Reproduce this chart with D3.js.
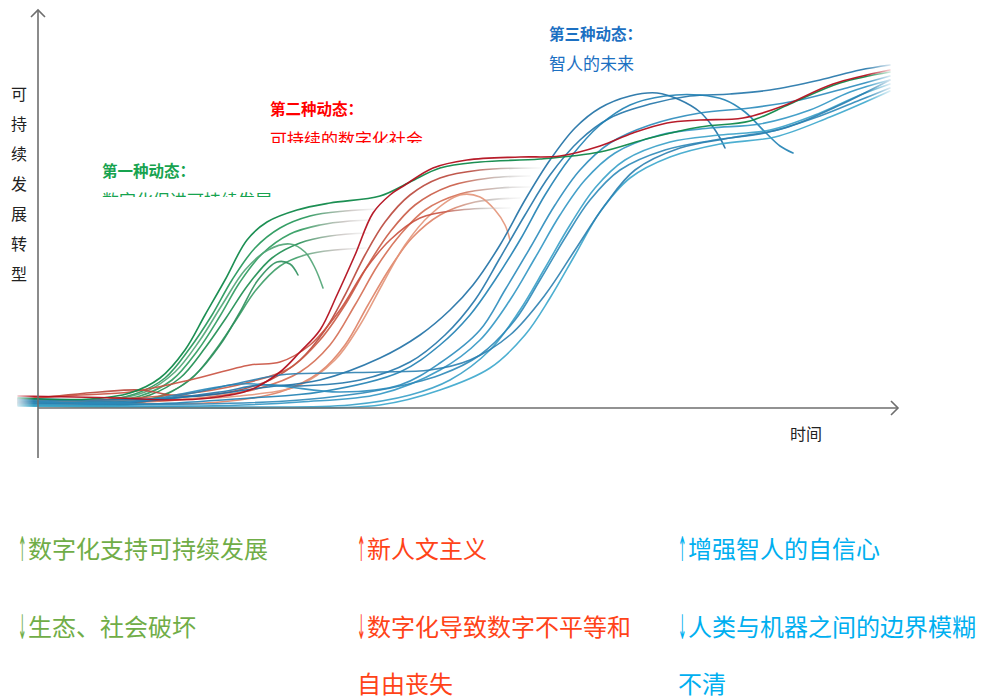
<!DOCTYPE html>
<html><head><meta charset="utf-8">
<script src="https://cdn.jsdelivr.net/npm/d3@7/dist/d3.min.js"></script>
<style>body{margin:0;background:#fff}svg{display:block}</style>
</head><body>
<svg id="chart" width="983" height="700"></svg>
<script>
// ---- data: [time, level] pairs (time 0..860, level 0..400) ----
const greenCurves = [
  [[-20,10],[52,9],[92,15],[122,30],[147,58],[167,93],[187,128],[209,168],[229,186],[259,198],[292,205],[342,212],[372,226],[402,240],[442,246],[502,249],[562,256],[612,270],[662,281],[712,287],[752,304],[802,325],[852,336]],
  [[-20,8],[57,7],[97,14],[127,30],[152,60],[174,93],[194,128],[217,160],[242,180],[272,192],[307,197],[340,199]],
  [[-20,6],[62,6],[102,12],[134,28],[160,58],[182,92],[202,126],[224,154],[252,174],[282,183],[312,187],[334,188]],
  [[-20,5],[72,5],[112,13],[142,30],[167,60],[188,90],[210,123],[234,150],[262,165],[292,172],[330,175]],
  [[-20,4],[82,4],[122,12],[152,28],[176,56],[198,88],[218,118],[242,142],[267,153],[297,158],[328,160]],
  [[-20,9],[67,8],[107,16],[137,36],[162,68],[184,103],[207,138],[230,158],[252,164],[267,156],[277,140],[285,120]],
  [[-20,3],[87,3],[127,13],[157,33],[182,63],[202,96],[220,128],[239,146],[252,144],[260,133]]
];
const redCurves = [
  [[-20,12],[82,10],[132,8],[172,10],[212,18],[242,36],[262,56],[282,78],[299,113],[317,153],[335,195],[352,213],[367,223],[395,240],[429,248],[482,251],[522,252],[562,262],[595,275],[629,285],[662,288],[705,290],[745,302],[795,324],[852,338]],
  [[-20,8],[62,16],[102,18],[142,12],[192,16],[232,28],[262,48],[287,78],[307,113],[327,153],[347,186],[372,213],[402,230],[442,238],[502,240]],
  [[-20,6],[62,8],[162,16],[212,26],[252,40],[282,68],[307,103],[330,143],[352,176],[377,203],[412,222],[452,230],[492,232]],
  [[-20,5],[82,5],[162,10],[222,20],[262,36],[292,63],[317,103],[340,143],[362,173],[387,198],[422,214],[462,220],[492,221]],
  [[-20,4],[92,4],[182,6],[242,16],[282,36],[307,63],[330,103],[352,140],[374,170],[402,193],[437,206],[482,210]],
  [[-20,7],[102,8],[202,12],[262,23],[297,48],[322,83],[344,123],[367,163],[392,193],[422,213],[442,211],[457,198],[467,183],[472,168]],
  [[-20,9],[42,13],[92,16],[152,28],[212,43],[242,46],[272,63],[302,98],[327,138],[352,168],[382,190],[422,198],[472,200]]
];
const blueCurves = [
  [[-20,10],[62,8],[162,12],[222,20],[282,28],[342,50],[382,73],[412,98],[435,123],[462,163],[487,208],[512,248],[537,280],[562,300],[592,312],[619,315],[642,308],[662,296],[675,281],[682,270],[687,260]],
  [[-20,7],[82,5],[182,16],[222,23],[262,22],[322,28],[372,46],[407,73],[437,108],[462,150],[487,193],[512,233],[542,268],[572,290],[612,304],[652,312],[692,314],[732,318],[782,328],[822,338],[852,343]],
  [[-20,5],[112,4],[212,10],[282,16],[362,36],[402,63],[432,93],[457,128],[482,168],[507,213],[532,250],[562,283],[592,303],[627,312],[662,313],[687,308],[707,296],[727,276],[742,262],[755,255]],
  [[-20,8],[92,6],[202,24],[242,22],[302,16],[362,23],[402,45],[442,78],[467,118],[492,160],[517,203],[542,238],[572,265],[612,283],[662,295],[712,300],[762,308],[812,321],[852,332]],
  [[-20,4],[162,2],[262,6],[342,14],[402,38],[442,68],[472,108],[497,150],[522,193],[547,228],[577,255],[622,273],[672,280],[722,284],[772,298],[812,316],[852,328]],
  [[-20,3],[212,1],[312,3],[372,13],[412,28],[452,58],[482,98],[507,140],[532,183],[557,220],[587,248],[632,266],[682,273],[732,278],[782,295],[822,313],[852,324]],
  [[-20,6],[162,4],[262,8],[342,18],[402,33],[442,53],[477,88],[502,128],[527,170],[552,208],[582,238],[627,258],[677,268],[727,275],[782,292],[822,308],[852,320]],
  [[-20,2],[242,0],[342,3],[402,18],[452,40],[487,73],[512,110],[537,153],[562,196],[592,230],[632,251],[682,264],[737,271],[792,291],[852,317]],
  [[-20,9],[112,8],[192,23],[242,33],[292,35],[342,36],[392,38],[432,48],[472,73],[507,113],[537,158],[567,203],[597,238],[642,260],[692,270],[747,280],[802,303],[852,328]]
];
const greenColors = ["#10894a","#1f9455","#2b9a5c","#1a8c4e","#3a9d66","#4fa474","#2c8f5c"];
const redColors   = ["#b3101f","#b9463a","#c95a44","#d46c52","#de8064","#e39478","#c9503f"];
const blueColors  = ["#1d6fa4","#2174a8","#1e80b3","#2a8bbb","#3196c3","#37a0c8","#2c88b8","#3aa6cc","#2b7fb0"];
const greenFade = [false,true,true,true,true,false,false];
const redFade   = [false,true,true,true,true,false,true];

const yLabelChars = ["可","持","续","发","展","转","型"];
const dynamics = [
  {title:"第一种动态：", sub:"数字化促进可持续发展", color:"#17a34f"},
  {title:"第二种动态：", sub:"可持续的数字化社会", color:"#ff0000"},
  {title:"第三种动态：", sub:"智人的未来", color:"#1c70c2"}
];
const effects = [
  {color:"#70ad47", up:["数字化支持可持续发展"], down:["生态、社会破坏"]},
  {color:"#ff4318", up:["新人文主义"], down:["数字化导致数字不平等和","自由丧失"]},
  {color:"#00aff0", up:["增强智人的自信心"], down:["人类与机器之间的边界模糊","不清"]}
];

// ---- drawing ----
const svg = d3.select("#chart");
const x = d3.scaleLinear().domain([0, 860]).range([38, 898]);
const y = d3.scaleLinear().domain([0, 400]).range([408, 8]);
const font = "'Noto Sans CJK SC','Noto Sans',sans-serif";
const defs = svg.append("defs");
const line = d3.line().x(d => x(d[0])).y(d => y(d[1])).curve(d3.curveCatmullRom.alpha(0.5));

let gid = 0;
function strokeFor(pts, color, fade) {
  if (!fade) return color;
  const id = "fade" + (gid++);
  const last = pts[pts.length - 1][0];
  const g = defs.append("linearGradient").attr("id", id).attr("gradientUnits", "userSpaceOnUse")
    .attr("x1", x(last) - 70).attr("x2", x(last)).attr("y1", 0).attr("y2", 0);
  g.append("stop").attr("offset", 0).attr("stop-color", color).attr("stop-opacity", 1);
  g.append("stop").attr("offset", 0.6).attr("stop-color", "#b0a8a4").attr("stop-opacity", 0.7);
  g.append("stop").attr("offset", 1).attr("stop-color", "#d8d8d8").attr("stop-opacity", 0.2);
  return `url(#${id})`;
}
const curvesG = svg.append("g").attr("fill", "none").attr("stroke-width", 1.6).attr("stroke-linecap", "round");
function drawSet(curves, colors, fades, skipFirst) {
  curves.forEach((c, i) => {
    if (skipFirst && i === 0) return;
    curvesG.append("path").attr("d", line(c))
      .attr("stroke", strokeFor(c, colors[i], fades ? fades[i] : false))
      .attr("stroke-opacity", 0.9);
  });
}
drawSet(greenCurves, greenColors, greenFade, true);
drawSet(redCurves, redColors, redFade, true);
drawSet(blueCurves, blueColors, null, false);
curvesG.append("path").attr("d", line(greenCurves[0])).attr("stroke", greenColors[0]).attr("stroke-opacity", 0.95);
curvesG.append("path").attr("d", line(redCurves[0])).attr("stroke", redColors[0]).attr("stroke-opacity", 0.95);

// edge fades
const lf = defs.append("linearGradient").attr("id", "leftFade");
lf.append("stop").attr("offset", 0).attr("stop-color", "#fff").attr("stop-opacity", 1);
lf.append("stop").attr("offset", 1).attr("stop-color", "#fff").attr("stop-opacity", 0);
svg.append("rect").attr("x", x(-26)).attr("y", y(30)).attr("width", 22).attr("height", 34).attr("fill", "url(#leftFade)");
const rf = defs.append("linearGradient").attr("id", "rightFade");
rf.append("stop").attr("offset", 0).attr("stop-color", "#fff").attr("stop-opacity", 0);
rf.append("stop").attr("offset", 1).attr("stop-color", "#fff").attr("stop-opacity", 1);
svg.append("rect").attr("x", x(828)).attr("y", y(360)).attr("width", 30).attr("height", 60).attr("fill", "url(#rightFade)");

// axes
const axisColor = "#6e6e6e";
const ax = svg.append("g").attr("stroke", axisColor).attr("stroke-width", 1.6).attr("fill", "none");
ax.append("path").attr("d", `M${x(0)},${y(-50)}V${y(398)}`);
ax.append("path").attr("d", `M${x(0)-7},${y(398)+7}L${x(0)},${y(398)}L${x(0)+7},${y(398)+7}`);
ax.append("path").attr("d", `M${x(0)},${y(0)}H${x(860)}`);
ax.append("path").attr("d", `M${x(860)-7},${y(0)-7}L${x(860)},${y(0)}L${x(860)-7},${y(0)+7}`);

// axis labels
svg.append("g").selectAll("text").data(yLabelChars).join("text")
  .attr("x", 19).attr("y", (d, i) => 100 + i * 30).attr("text-anchor", "middle")
  .attr("font-family", font).attr("font-size", 16).attr("fill", "#222").text(d => d);
svg.append("text").attr("x", 790).attr("y", 440).attr("font-family", font).attr("font-size", 16)
  .attr("fill", "#222").text("时间");

// dynamics annotations
const annPos = [
  {x: 102, ty: 177, sy: 207, clip: 197},
  {x: 270, ty: 115, sy: 146, clip: 143},
  {x: 549, ty: 40, sy: 70, clip: null}
];
dynamics.forEach((d, i) => {
  const p = annPos[i];
  svg.append("text").attr("x", p.x).attr("y", p.ty).attr("font-family", font).attr("font-size", 15.5)
    .attr("font-weight", "bold").attr("fill", d.color).text(d.title);
  const t = svg.append("text").attr("x", p.x).attr("y", p.sy).attr("font-family", font).attr("font-size", 17)
    .attr("fill", d.color).text(d.sub);
  if (p.clip) {
    const cid = "clip" + i;
    defs.append("clipPath").attr("id", cid).append("rect")
      .attr("x", p.x - 5).attr("y", p.sy - 30).attr("width", 260).attr("height", p.clip - (p.sy - 30));
    t.attr("clip-path", `url(#${cid})`);
  }
});

// effects below
const colX = [18, 357, 678];
const rowY = [558, 636, 693];
function arrow(g, ch, x0, y0) {
  g.append("text").attr("transform", `translate(${x0},${y0 + 3}) scale(0.3,1)`)
    .attr("font-family", "'DejaVu Sans',sans-serif").attr("font-size", 34).text(ch);
}
effects.forEach((e, i) => {
  const g = svg.append("g").attr("font-family", font).attr("font-size", 24).attr("fill", e.color);
  arrow(g, "↑", colX[i], rowY[0]);
  g.append("text").attr("x", colX[i] + 10).attr("y", rowY[0]).text(e.up[0]);
  e.down.forEach((s, j) => {
    if (j === 0) {
      arrow(g, "↓", colX[i], rowY[1]);
      g.append("text").attr("x", colX[i] + 10).attr("y", rowY[1]).text(s);
    } else {
      g.append("text").attr("x", colX[i]).attr("y", rowY[1 + j]).text(s);
    }
  });
});
</script>
</body></html>
